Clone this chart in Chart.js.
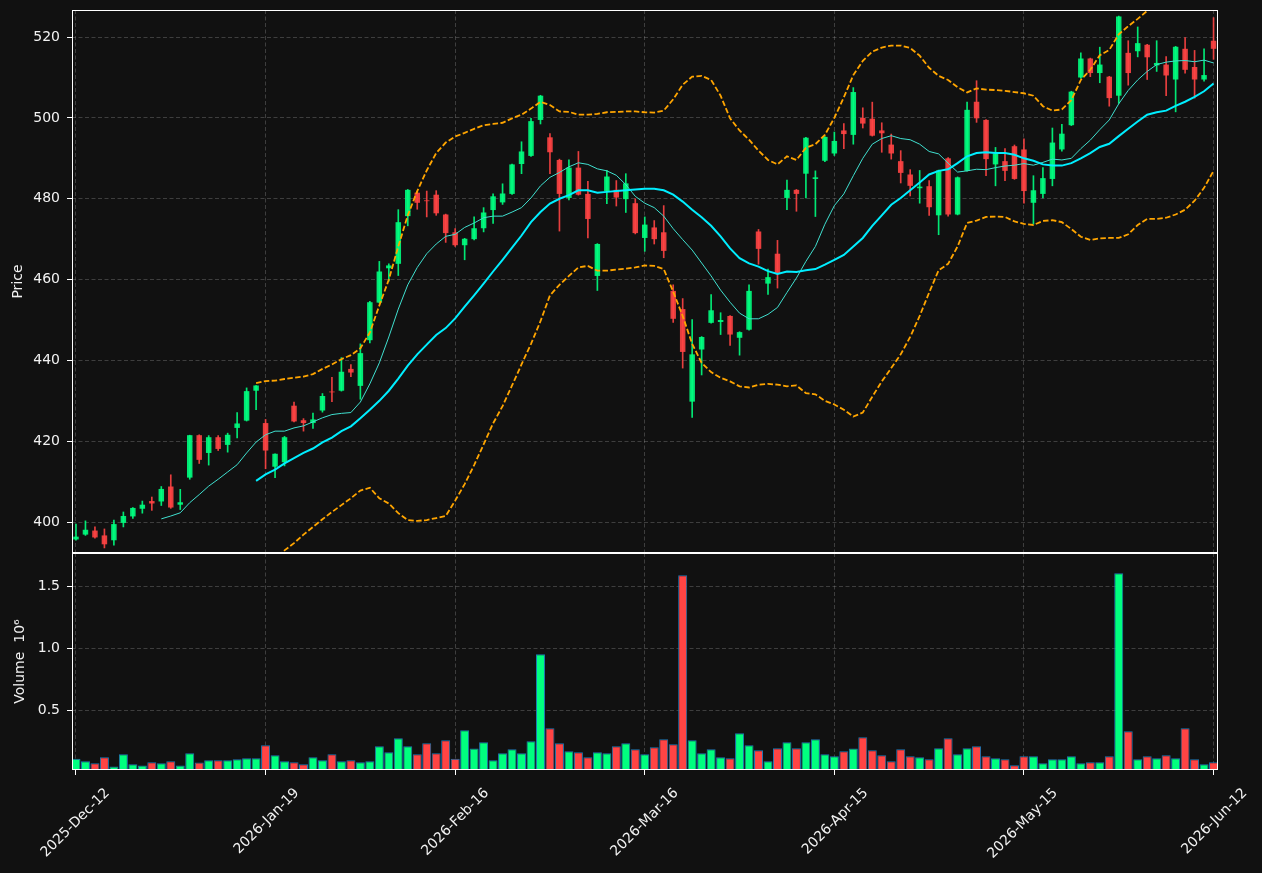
<!DOCTYPE html>
<html><head><meta charset="utf-8">
<script src="https://cdn.jsdelivr.net/npm/chart.js@4.4.1/dist/chart.umd.min.js"></script>
<style>
html,body{margin:0;padding:0;background:#111111;overflow:hidden;}
#wrap{position:relative;width:1262px;height:873px;background:#111111;}
#price{position:absolute;left:0;top:0;}
#vol{position:absolute;left:0;top:553px;}
</style></head><body>
<div id="wrap">
<canvas id="price" width="1262" height="553"></canvas>
<canvas id="vol" width="1262" height="320"></canvas>
</div>
<script>
// ---------- data ----------
const tickIndex = [0, 20, 40, 60, 80, 100, 120];
const tickLabels = ['2025-Dec-12','2026-Jan-19','2026-Feb-16','2026-Mar-16','2026-Apr-15','2026-May-15','2026-Jun-12'];
const priceTicks = [400, 420, 440, 460, 480, 500, 520];
const volumeTicks = [0.5, 1.0, 1.5];

const opens = [395.7,396.9,397.9,396.7,395.5,399.8,401.4,403.3,405.2,405.1,
408.8,404.3,411.0,421.5,417.1,421.0,419.1,423.3,425.1,432.5,
424.5,413.7,414.8,428.8,425.2,424.5,427.6,432.3,432.5,437.9,
433.7,445.0,454.3,462.8,463.9,475.7,481.5,479.6,481.0,476.1,
471.7,468.5,470.0,472.7,477.2,479.1,481.2,488.6,490.6,499.5,
495.2,489.6,480.2,487.7,481.2,460.9,481.9,482.2,479.9,478.9,
470.3,472.9,471.7,457.2,452.7,429.8,442.7,449.3,449.5,451.0,
445.6,447.6,471.9,459.0,466.4,480.2,482.2,486.2,484.9,489.4,
491.2,496.9,495.8,500.0,499.8,496.9,493.4,489.3,486.0,482.6,
483.1,475.9,490.0,476.1,486.9,504.0,499.5,488.5,489.3,493.0,
492.2,479.0,481.2,484.9,492.2,498.2,510.0,514.7,511.1,510.2,
505.5,516.1,516.5,518.1,513.0,513.2,509.5,517.1,512.6,509.5,519.1];
const highs = [399.5,400.3,398.8,398.3,400.5,402.5,403.6,405.2,406.2,408.8,
411.7,408.1,421.5,421.6,421.4,421.4,422.0,427.1,433.2,433.8,
425.4,416.9,421.2,429.7,425.6,427.0,431.8,435.8,440.7,439.0,
444.1,454.6,464.5,463.9,477.3,482.3,481.9,481.9,482.0,476.2,
472.6,470.2,475.5,477.8,481.2,483.7,488.6,494.1,499.9,505.6,
496.1,489.8,489.6,491.7,484.3,468.9,487.0,484.5,486.2,480.0,
475.5,474.6,478.3,458.7,455.3,450.1,445.9,456.3,451.8,451.1,
447.1,458.7,472.4,462.6,469.7,484.6,482.3,495.2,486.9,495.4,
496.5,498.6,507.5,502.5,503.9,498.8,496.0,491.9,487.2,487.0,
484.5,487.1,490.2,485.4,503.9,509.2,499.6,492.7,492.4,493.3,
494.8,485.7,487.7,497.5,498.4,506.6,516.1,514.8,517.5,510.3,
525.2,519.1,522.5,518.2,519.1,515.2,517.7,519.9,516.7,517.1,524.8];
const lows = [395.5,396.7,396.0,393.6,394.3,398.8,400.9,402.2,402.9,404.1,
403.4,403.1,410.6,414.5,414.1,417.7,417.3,420.8,425.0,427.8,
413.2,411.0,413.9,424.8,422.5,423.2,427.2,429.8,432.4,436.0,
430.4,444.3,454.2,459.6,461.0,473.3,477.4,475.5,475.9,469.2,
468.2,464.9,469.8,471.8,473.9,478.6,481.1,486.2,490.5,498.5,
486.2,472.0,479.7,480.9,470.3,457.3,478.8,478.2,476.6,471.3,
467.0,468.8,465.4,449.4,438.1,425.9,436.4,449.2,446.4,443.7,
441.3,447.5,463.8,456.3,457.9,477.3,476.9,480.2,475.6,489.2,
490.7,492.4,493.5,497.5,495.5,491.5,489.8,483.9,480.7,478.9,
475.9,471.1,475.7,476.0,486.8,498.9,485.7,483.2,484.5,484.8,
478.9,473.7,480.2,483.2,491.8,498.1,509.8,510.2,508.7,502.9,
503.6,508.1,515.1,509.5,511.5,505.5,501.5,511.1,504.9,509.1,514.5];
const closes = [396.4,398.1,396.2,394.5,399.5,401.5,403.5,404.3,404.6,408.2,
403.6,404.9,421.5,415.4,421.0,418.1,421.6,424.4,432.4,433.8,
417.7,416.9,421.0,424.9,424.5,425.4,431.2,432.1,437.2,437.0,
441.8,454.4,462.0,463.5,474.2,482.2,479.0,479.4,476.4,471.5,
468.5,470.1,472.7,476.6,480.6,481.3,488.5,491.7,499.2,505.5,
491.5,481.2,487.7,481.0,475.0,468.8,485.5,480.3,483.8,471.5,
473.6,470.0,467.1,450.3,442.1,441.5,445.8,452.4,450.0,446.4,
447.0,457.2,467.6,460.6,461.6,482.2,481.2,495.1,485.3,495.3,
494.3,496.0,506.4,498.6,495.6,496.2,491.2,486.4,483.2,483.0,
477.9,487.0,476.1,485.3,502.0,499.9,489.8,491.2,486.9,484.9,
481.9,482.1,485.1,493.9,496.1,506.5,514.7,511.1,513.2,504.9,
525.1,511.1,518.5,515.0,513.6,510.5,517.6,511.9,509.5,510.6,517.1];
// volume in millions (axis title carries the 10^6 factor)
const volumes = [0.110,0.089,0.073,0.121,0.046,0.145,0.065,0.054,0.081,0.073,
0.089,0.054,0.153,0.078,0.097,0.097,0.097,0.105,0.113,0.113,
0.218,0.137,0.089,0.081,0.065,0.121,0.097,0.145,0.089,0.097,
0.081,0.089,0.210,0.161,0.274,0.210,0.145,0.234,0.153,0.258,
0.110,0.339,0.191,0.242,0.097,0.153,0.185,0.153,0.250,0.952,
0.355,0.234,0.169,0.161,0.121,0.161,0.153,0.210,0.234,0.185,
0.145,0.202,0.266,0.226,1.589,0.258,0.153,0.185,0.121,0.113,
0.315,0.218,0.177,0.089,0.194,0.242,0.194,0.242,0.266,0.145,
0.129,0.169,0.191,0.282,0.177,0.137,0.089,0.185,0.129,0.121,
0.105,0.194,0.274,0.145,0.194,0.210,0.129,0.113,0.105,0.056,
0.129,0.129,0.073,0.105,0.105,0.129,0.073,0.081,0.081,0.129,
1.605,0.331,0.105,0.129,0.113,0.137,0.113,0.355,0.105,0.065,0.081];

const ma10Start = 9;
const ma10 = [400.8,401.5,402.3,404.8,406.8,408.9,410.6,412.4,414.2,417.1,419.8,
421.6,422.5,422.5,423.3,423.8,424.8,425.8,426.6,426.9,427.1,
429.7,434.2,439.4,445.8,452.7,458.7,463.0,466.4,468.8,470.7,
471.2,472.9,474.0,475.3,475.7,475.7,476.7,477.8,480.2,483.2,
485.3,486.5,487.9,488.9,488.5,487.4,486.9,485.8,483.5,480.6,
478.9,477.8,475.7,472.6,469.9,467.3,464.1,460.9,457.4,454.4,
451.7,450.3,450.3,451.4,453.1,456.8,460.4,464.5,468.2,473.7,
478.3,481.2,485.7,490.0,493.5,494.9,495.6,494.9,494.6,493.5,
491.7,491.1,488.8,486.6,486.9,487.3,487.2,487.7,488.1,488.3,
488.7,488.3,489.0,489.8,489.6,490.0,492.4,494.5,497.1,499.5,
503.5,506.8,509.4,511.5,513.2,513.8,514.1,514.2,513.9,514.3,513.6];

const ma20Start = 19;
const ma20 = [410.2,
411.8,413.0,414.5,415.8,417.1,418.2,419.7,420.9,422.5,423.7,
425.7,427.8,430.0,432.5,435.5,438.7,441.5,443.9,446.3,448.0,
450.4,453.3,456.1,459.0,462.0,464.9,467.9,470.9,474.2,476.7,
478.8,480.0,480.9,482.1,482.1,481.5,481.7,481.9,482.1,482.3,
482.5,482.5,482.1,481.0,479.3,477.3,475.4,473.3,470.7,467.7,
465.3,464.0,463.2,462.1,461.4,462.0,461.9,462.3,462.6,463.7,
464.9,466.1,468.2,470.3,473.3,475.9,478.5,480.2,482.1,484.0,
486.0,486.9,487.3,488.8,490.5,491.3,491.5,491.3,491.3,490.9,
490.0,489.4,488.5,488.2,488.2,488.8,490.0,491.3,492.8,493.6,
495.5,497.3,499.1,500.8,501.4,501.8,503.0,504.0,505.2,506.6,508.5];

const bandStart = 19;
const bandUpper = [434.4,
434.9,435.0,435.4,435.7,436.0,436.6,437.9,439.0,440.3,441.3,
443.0,446.9,453.6,460.0,468.2,475.9,481.9,487.0,491.3,493.9,
495.4,496.3,497.3,498.2,498.5,498.8,499.9,500.8,502.3,504.0,
503.2,501.6,501.5,500.8,500.8,501.0,501.4,501.5,501.6,501.6,
501.4,501.3,501.8,504.6,508.2,510.2,510.4,509.4,505.5,499.9,
496.9,494.6,491.9,489.6,488.5,490.5,489.6,492.6,493.5,495.8,
500.0,505.1,510.6,514.1,516.4,517.4,517.9,517.9,517.3,515.4,
512.4,510.4,509.4,507.6,506.3,507.3,507.0,506.9,506.7,506.4,
506.1,505.5,502.9,501.8,502.1,504.4,509.4,511.9,515.5,516.8,
520.7,522.7,524.5,526.5,527.8,528.3,529.9,530.7,530.9,530.5,530.1];
const bandLower = [386.0,
388.7,391.0,393.0,394.8,396.9,398.8,400.7,402.5,404.2,405.9,
407.8,408.5,405.9,404.6,402.2,400.5,400.3,400.5,401.0,401.5,
405.3,409.4,414.1,419.2,424.4,428.7,433.8,439.0,444.1,449.7,
456.1,458.7,460.9,463.0,463.4,462.2,462.2,462.5,462.7,463.0,
463.5,463.4,462.6,457.0,451.0,444.1,439.4,437.1,435.7,434.8,
433.6,433.3,434.0,434.2,434.0,433.6,433.8,431.9,431.6,430.0,
429.1,427.8,426.1,427.1,431.0,434.8,438.1,441.5,445.8,451.0,
456.8,462.3,463.9,468.2,474.0,474.6,475.5,475.6,475.5,474.4,
473.8,473.5,474.5,474.7,474.2,472.5,470.6,469.8,470.2,470.3,
470.3,471.2,473.5,475.0,475.0,475.3,476.1,477.3,479.5,482.7,486.9];

// ---------- styling ----------
const TEXT = '#f2f2f2';
const GRID = 'rgba(170,170,170,0.3)';
const DASH = [4, 2.5];
const UP_C = 'rgba(0,255,127,0.9)', DOWN_C = 'rgba(255,68,68,0.9)';
const UP_V = 'rgb(0,255,127)', DOWN_V = 'rgb(255,68,68)';
Chart.defaults.font.family = "'DejaVu Sans', sans-serif";
Chart.defaults.font.size = 14;
Chart.defaults.color = TEXT;

const idx = opens.map((_, i) => i);
const isUp = i => closes[i] >= opens[i];
const series = (start, arr) => arr.map((v, k) => ({x: start + k, y: v}));

const framePlugin = {
  id: 'frame',
  afterDraw(chart) {
    const {ctx, chartArea: a} = chart;
    ctx.save();
    ctx.strokeStyle = '#ffffff';
    ctx.lineWidth = 1;
    ctx.strokeRect(a.left + 0.5, a.top + 0.5, a.width - 1, a.height - 1);
    ctx.restore();
  }
};

function xAxis(showLabels) {
  return {
    type: 'linear', min: -0.42, max: 120.47, offset: false,
    afterBuildTicks: s => { s.ticks = tickIndex.map(v => ({value: v})); },
    afterFit: s => { s.height = showLabels ? 103 : 0; s.paddingLeft = 0; s.paddingRight = 0; },
    grid: {display: true, color: GRID, lineWidth: 1, offset: false,
           drawTicks: showLabels, tickLength: 5, tickColor: '#ffffff', tickBorderDash: []},
    border: {display: false, dash: DASH},
    ticks: {display: showLabels, autoSkip: false, minRotation: 45, maxRotation: 45,
            padding: 10, labelOffset: 31.5, color: TEXT, font: {size: 14},
            callback: v => { const k = tickIndex.indexOf(v); return k >= 0 ? tickLabels[k] : ''; }}
  };
}
function yAxis(min, max, ticks, fmt, title, titlePad) {
  return {
    type: 'linear', min: min, max: max,
    afterFit: s => { s.width = 72; s.paddingTop = 0; s.paddingBottom = 0; },
    afterBuildTicks: s => { s.ticks = ticks.map(v => ({value: v})); },
    grid: {color: GRID, lineWidth: 1, drawTicks: true, tickLength: 5, tickColor: '#ffffff', tickBorderDash: []},
    border: {display: false, dash: DASH},
    ticks: {padding: 7, color: TEXT, font: {size: 14}, callback: fmt},
    title: {display: true, text: title, color: TEXT, font: {size: 14}, padding: {top: titlePad, bottom: 0}}
  };
}
const common = {
  responsive: false, animation: false, devicePixelRatio: 1, events: [],
  plugins: {legend: {display: false}, tooltip: {enabled: false}}
};

// ---------- price panel ----------
new Chart(document.getElementById('price'), {
  type: 'bar',
  data: {
    datasets: [
      {type: 'line', data: series(bandStart, bandUpper), borderColor: '#ffa500', borderWidth: 1.8,
       borderDash: [5.5, 2.4], pointRadius: 0, tension: 0, order: 0},
      {type: 'line', data: series(bandStart, bandLower), borderColor: '#ffa500', borderWidth: 1.8,
       borderDash: [5.5, 2.4], pointRadius: 0, tension: 0, order: 0},
      {type: 'line', data: series(ma20Start, ma20), borderColor: '#00eeff', borderWidth: 2,
       pointRadius: 0, tension: 0, order: 1},
      {type: 'line', data: series(ma10Start, ma10), borderColor: 'rgba(64,224,208,1)', borderWidth: 1,
       pointRadius: 0, tension: 0, order: 2},
      {type: 'bar', data: idx.map(i => ({x: i, y: [opens[i], closes[i]]})),
       backgroundColor: c => isUp(c.dataIndex) ? UP_C : DOWN_C, borderWidth: 0,
       grouped: false, barPercentage: 0.58, categoryPercentage: 1, order: 3},
      {type: 'bar', data: idx.map(i => ({x: i, y: [lows[i], highs[i]]})),
       backgroundColor: c => isUp(c.dataIndex) ? UP_C : DOWN_C, borderWidth: 0,
       grouped: false, barThickness: 1, order: 4}
    ]
  },
  options: Object.assign({}, common, {
    layout: {padding: {left: 0, right: 44, top: 10, bottom: 0}},
    scales: {
      x: xAxis(false),
      y: yAxis(392.35, 526.7, priceTicks, v => String(v), 'Price', 10)
    }
  }),
  plugins: [framePlugin]
});

// ---------- volume panel ----------
new Chart(document.getElementById('vol'), {
  type: 'bar',
  data: {
    datasets: [
      {type: 'bar', data: idx.map(i => ({x: i, y: volumes[i]})),
       backgroundColor: c => isUp(c.dataIndex) ? UP_V : DOWN_V,
       borderColor: '#1f77b4', borderWidth: 1,
       grouped: false, barPercentage: 0.95, categoryPercentage: 1}
    ]
  },
  options: Object.assign({}, common, {
    layout: {padding: {left: 0, right: 44, top: 0, bottom: 0}},
    scales: {
      x: xAxis(true),
      y: yAxis(0.0185, 1.7685, volumeTicks, v => Number(v).toFixed(1), 'Volume  10\u2076', 12)
    }
  }),
  plugins: [framePlugin]
});
</script>
</body></html>
